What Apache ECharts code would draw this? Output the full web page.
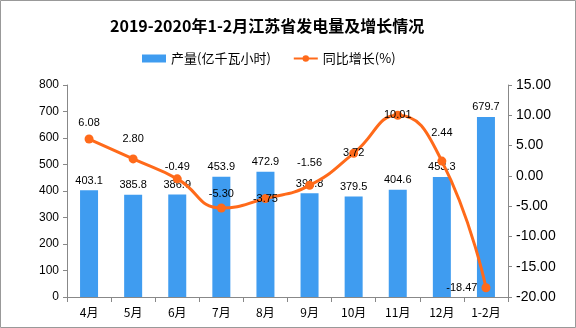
<!DOCTYPE html>
<html><head><meta charset="utf-8">
<script src="https://cdn.jsdelivr.net/npm/echarts@6/dist/echarts.min.js"></script>
<style>html,body{margin:0;padding:0;background:#fff}#c{width:576px;height:328px}</style>
</head><body><div id="c"></div>
<script>
const categories = ['4月','5月','6月','7月','8月','9月','10月','11月','12月','1-2月'];
const production = [403.1,385.8,386.9,453.9,472.9,391.8,379.5,404.6,453.3,679.7];
const growth = [6.08,2.80,-0.49,-5.30,-3.75,-1.56,3.72,10.01,2.44,-18.47];
const leftTicks = {min:0,max:800,interval:100};
const rightTicks = {min:-20,max:15,interval:5};
const seriesNames = ['产量(亿千瓦小时)','同比增长(%)'];
const titleText = '2019-2020年1-2月江苏省发电量及增长情况';

// label placement for the growth line (style only)
const growthLabelPos = ['top','top','top','top','inside','top','inside','inside','top','left'];
const growthLabelDist = [6,10,2,4,0,12,0,0,18,4];

const chart = echarts.init(document.getElementById('c'));
const lbl = {color:'#000',fontSize:11,fontFamily:'Liberation Sans'};
chart.setOption({
  animation:false,
  backgroundColor:'#fff',
  title:{text:titleText,left:105,top:13,textStyle:{fontSize:16,fontWeight:'bold',color:'#000',fontFamily:'Noto Sans CJK SC'}},
  legend:{left:137,top:47,itemWidth:24,itemHeight:8,itemGap:22,
    textStyle:{fontSize:13,color:'#000',fontFamily:'Noto Sans CJK SC'},
    data:[{name:seriesNames[0],icon:'rect'},{name:seriesNames[1]}]},
  grid:{left:67,right:68,top:85,bottom:31},
  xAxis:{type:'category',data:categories,
    axisLine:{lineStyle:{color:'#888'}},
    axisTick:{show:true,length:5,lineStyle:{color:'#888'}},
    axisLabel:{color:'#000',fontSize:12,margin:9,fontFamily:'Noto Sans CJK SC'}},
  yAxis:[
    {type:'value',min:leftTicks.min,max:leftTicks.max,interval:leftTicks.interval,
     splitLine:{show:false},axisLine:{show:true,lineStyle:{color:'#888'}},
     axisTick:{show:true,length:4,lineStyle:{color:'#888'}},
     axisLabel:{color:'#000',fontSize:12,margin:8,fontFamily:'Liberation Sans'}},
    {type:'value',min:rightTicks.min,max:rightTicks.max,interval:rightTicks.interval,
     splitLine:{show:false},axisLine:{show:true,lineStyle:{color:'#888'}},
     axisTick:{show:true,length:4,lineStyle:{color:'#888'}},
     axisLabel:{color:'#000',fontSize:14,margin:8,fontFamily:'Liberation Sans',
       formatter:v=>v.toFixed(2)}}
  ],
  graphic:[{type:'rect',shape:{x:0.5,y:0.5,width:575,height:327},style:{fill:'none',stroke:'#999',lineWidth:1},silent:true}],
  series:[
    {name:seriesNames[0],type:'bar',data:production,barWidth:18,
     itemStyle:{color:'#3f9cf0'},
     label:{show:true,position:'top',distance:4,...lbl,formatter:p=>p.value.toFixed(1)}},
    {name:seriesNames[1],type:'line',yAxisIndex:1,smooth:true,
     data:growth.map((v,i)=>({value:v,label:{position:growthLabelPos[i],distance:growthLabelDist[i]}})),
     symbol:'circle',symbolSize:9,
     lineStyle:{color:'#ff6a1a',width:3},itemStyle:{color:'#ff6a1a'},
     label:{show:true,...lbl,formatter:p=>p.value.toFixed(2)}}
  ]
});
</script></body></html>
